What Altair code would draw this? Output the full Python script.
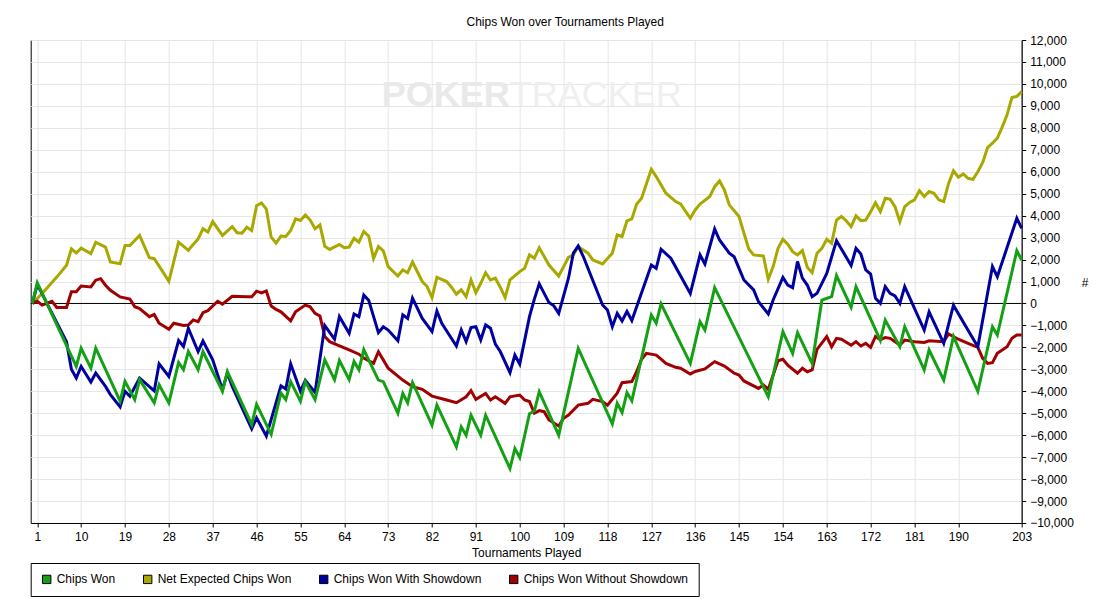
import altair as alt
import pandas as pd

TITLE = "Chips Won over Tournaments Played"
X_TITLE = "Tournaments Played"
Y_TITLE = "#"
SERIES = ["Chips Won", "Net Expected Chips Won", "Chips Won With Showdown", "Chips Won Without Showdown"]
COLORS = ["#14a014", "#a8a800", "#0000a0", "#a00000"]
DRAW_ORDER = ["Net Expected Chips Won", "Chips Won Without Showdown", "Chips Won With Showdown", "Chips Won"]
X_TICKS = [1, 10, 19, 28, 37, 46, 55, 64, 73, 82, 91, 100, 109, 118, 127, 136, 145, 154, 163, 172, 181, 190, 203]
Y_TICKS = list(range(-10000, 12001, 1000))

# (tournament, cumulative chips) vertices
CHIPS_WON = [
    (0, 0), (1, 940), (9, -2870), (10, -2040), (12, -2950), (13, -2040), (18, -4450), (19, -3550),
    (21, -4380), (22, -3470), (25, -4530), (26, -3700), (28, -4530), (30, -2690), (31, -3020),
    (32, -2190), (34, -3020), (35, -2190), (39, -4000), (40, -3100), (45, -5510), (46, -4600),
    (49, -5960), (51, -4080), (52, -4380), (53, -3560), (55, -4450), (56, -3560), (58, -4380),
    (60, -2570), (62, -3470), (63, -2600), (65, -3470), (66, -2640), (67, -3020), (68, -2110),
    (71, -3490), (72, -3560), (75, -5000), (76, -4100), (77, -4520), (78, -3600), (82, -5540),
    (83, -4630), (87, -6530), (88, -5620), (89, -6000), (90, -5090), (92, -6000), (93, -5090),
    (98, -7520), (99, -6610), (100, -7020), (102, -5020), (103, -4900), (104, -4020), (108, -6000),
    (112, -2050), (119, -5490), (120, -4550), (121, -4970), (122, -4060), (123, -4430), (127, -530),
    (128, -900), (129, -20), (135, -2730), (137, -830), (138, -1210), (140, 720), (151, -4250),
    (154, -1290), (156, -2270), (157, -1330), (160, -2730), (162, 150), (164, 310), (165, 1270),
    (168, -170), (169, 770), (174, -1680), (175, -760), (178, -1970), (179, -1060), (183, -3030),
    (184, -2120), (187, -3490), (189, -1510), (194, -4000), (197, -1060), (198, -1440), (202, 2400),
    (203, 1980),
]

NET_EXPECTED = [
    (0, 0), (2, 450), (5, 1200), (7, 1740), (8, 2490), (9, 2300), (10, 2520), (12, 2270), (13, 2790),
    (15, 2570), (16, 1890), (18, 1810), (19, 2640), (20, 2640), (22, 3100), (24, 2080), (25, 2040),
    (27, 1360), (28, 1010), (30, 2790), (32, 2420), (33, 2690), (34, 2940), (35, 3400), (36, 3250),
    (37, 3730), (39, 3100), (41, 3500), (42, 3220), (43, 3200), (44, 3470), (45, 3320), (46, 4450),
    (47, 4580), (48, 4300), (49, 3020), (50, 2750), (51, 3070), (52, 3050), (53, 3320), (54, 3850),
    (55, 3780), (56, 4030), (57, 3800), (58, 3400), (59, 3580), (60, 2600), (61, 2460), (63, 2690),
    (64, 2540), (65, 2570), (66, 2970), (67, 2790), (68, 3280), (69, 3070), (70, 2050), (71, 2590),
    (72, 2400), (73, 1680), (75, 1250), (76, 1530), (77, 1400), (78, 1890), (80, 1000), (81, 770),
    (82, 270), (83, 1190), (85, 1000), (86, 740), (87, 420), (88, 620), (89, 310), (90, 1070),
    (91, 490), (92, 920), (93, 1400), (94, 1070), (95, 1150), (96, 740), (97, 270), (98, 1070),
    (100, 1450), (101, 1600), (102, 2210), (103, 2060), (104, 2540), (106, 1750), (108, 1250),
    (110, 2100), (111, 2210), (112, 2590), (114, 2290), (115, 1980), (117, 1800), (119, 2290),
    (120, 3120), (121, 3050), (122, 3760), (123, 3850), (124, 4530), (125, 4790), (127, 6110),
    (128, 5780), (130, 5020), (132, 4640), (133, 4530), (135, 3880), (136, 4260), (137, 4530),
    (139, 4870), (140, 5320), (141, 5580), (142, 5170), (143, 4490), (145, 3960), (146, 3200),
    (147, 2480), (148, 2210), (150, 2160), (151, 1100), (152, 1680), (153, 2510), (154, 2920),
    (155, 2700), (156, 2360), (157, 2210), (158, 2410), (159, 1650), (160, 1400), (161, 2290),
    (162, 2510), (163, 2920), (164, 2740), (165, 3800), (166, 3960), (167, 3770), (168, 3500),
    (169, 3990), (170, 3770), (171, 3800), (172, 4180), (173, 4590), (174, 4180), (175, 4790),
    (176, 4750), (177, 4410), (178, 3730), (179, 4410), (180, 4600), (181, 4720), (182, 5140),
    (183, 4870), (184, 5100), (185, 5020), (186, 4720), (187, 4640), (188, 5470), (189, 6040),
    (190, 5750), (191, 5900), (192, 5700), (193, 5650), (194, 6000), (195, 6420), (196, 7100),
    (197, 7300), (198, 7530), (199, 8030), (200, 8590), (201, 9380), (202, 9430), (203, 9650),
]

WITH_SHOWDOWN = [
    (0, 0), (1, 870), (7, -1740), (8, -3000), (9, -3400), (10, -2870), (12, -3580), (13, -3170),
    (15, -3780), (16, -4150), (18, -4710), (19, -4000), (20, -4230), (22, -3400), (25, -3980),
    (26, -2750), (28, -3320), (30, -1690), (31, -1960), (32, -1130), (34, -2190), (35, -1710),
    (37, -2570), (39, -3930), (40, -3170), (41, -3780), (45, -5710), (46, -5210), (48, -6040),
    (51, -3750), (52, -3900), (53, -2750), (55, -4000), (56, -3500), (58, -4050), (60, -1010),
    (62, -1630), (63, -600), (65, -1360), (66, -480), (67, -600), (68, 380), (69, 150), (71, -1330),
    (72, -1060), (73, -1210), (75, -1700), (76, -520), (77, -680), (78, 240), (80, -680), (82, -1280),
    (83, -340), (84, -900), (87, -1940), (88, -1210), (89, -1740), (90, -1100), (91, -1060),
    (92, -1660), (93, -980), (94, -1130), (95, -1850), (96, -2190), (98, -3150), (99, -2350),
    (100, -2760), (102, -600), (103, 200), (104, 890), (106, 40), (107, -110), (108, -450),
    (110, 1150), (111, 2290), (112, 2620), (113, 2160), (117, -70), (118, -300), (119, -1060),
    (120, -450), (121, -800), (122, -370), (123, -780), (127, 1750), (128, 1600), (129, 2470),
    (131, 2060), (135, 460), (137, 2210), (138, 1800), (140, 3390), (141, 2890), (143, 2290),
    (144, 2130), (145, 1600), (146, 1070), (148, 620), (149, 80), (151, -480), (152, 160),
    (154, 1190), (155, 840), (156, 720), (157, 1910), (158, 1150), (159, 840), (160, 310),
    (161, 460), (163, 1370), (165, 2860), (168, 1730), (169, 2510), (170, 2250), (171, 1530),
    (172, 1340), (173, 240), (174, 10), (175, 770), (176, 460), (177, 340), (178, 0), (179, 770),
    (183, -1210), (184, -380), (187, -1820), (189, -80), (191, -840), (194, -1970), (197, 1680),
    (198, 1220), (202, 3880), (203, 3420),
]

WITHOUT_SHOWDOWN = [
    (0, 0), (1, 100), (2, -75), (4, 100), (5, -180), (7, -180), (8, 530), (9, 530), (10, 790),
    (12, 750), (13, 1060), (14, 1130), (15, 830), (16, 600), (18, 300), (20, 200), (21, -150),
    (22, -230), (24, -600), (25, -500), (26, -900), (28, -1180), (29, -900), (31, -1000), (32, -980),
    (33, -750), (34, -830), (35, -420), (36, -330), (38, 100), (39, -30), (41, 330), (44, 300),
    (45, 300), (46, 560), (47, 480), (48, 570), (49, -120), (50, -270), (51, -380), (53, -790),
    (54, -380), (56, -75), (57, -150), (58, -450), (59, -570), (60, -1510), (61, -1740), (63, -1930),
    (65, -2110), (67, -2310), (68, -2490), (70, -2730), (71, -2200), (72, -2570), (73, -2950),
    (76, -3490), (78, -3790), (80, -3910), (82, -4220), (85, -4400), (87, -4520), (89, -4250),
    (90, -3970), (91, -4370), (93, -4100), (94, -4400), (95, -4250), (97, -4550), (98, -4250),
    (100, -4170), (101, -4400), (102, -4470), (103, -5000), (104, -4880), (105, -4930), (106, -5310),
    (108, -5580), (109, -5230), (110, -5080), (112, -4630), (114, -4550), (115, -4370), (117, -4470),
    (118, -4630), (120, -4090), (121, -3610), (123, -3560), (124, -3100), (125, -2540), (126, -2270),
    (128, -2350), (129, -2540), (130, -2730), (132, -2910), (133, -2950), (135, -3210), (136, -3100),
    (138, -2980), (140, -2650), (142, -2850), (144, -3180), (145, -3260), (146, -3530), (149, -3870),
    (150, -3710), (151, -3910), (153, -2610), (154, -2540), (155, -2810), (157, -3180), (158, -2950),
    (159, -3110), (160, -3030), (161, -2090), (163, -1510), (164, -1970), (165, -1590), (166, -1630),
    (168, -1900), (169, -1740), (170, -1940), (171, -1820), (172, -2000), (173, -1500), (174, -1650),
    (175, -1550), (176, -1590), (178, -1890), (179, -1670), (181, -1740), (183, -1780), (184, -1700),
    (187, -1740), (188, -1390), (190, -1630), (192, -1820), (194, -2000), (195, -2500), (196, -2730),
    (197, -2700), (198, -2270), (200, -1970), (201, -1590), (202, -1440), (203, -1440),
]

FONT = "Liberation Sans"
GRID = "#e6e6ea"

rows = []
for name, pts in zip(SERIES, [CHIPS_WON, NET_EXPECTED, WITH_SHOWDOWN, WITHOUT_SHOWDOWN]):
    for t, v in pts:
        rows.append({"series": name, "t": t, "value": v})
df = pd.DataFrame(rows)
color_of = dict(zip(SERIES, COLORS))

x_enc = alt.X(
    "t:Q",
    scale=alt.Scale(domain=[-0.35, 203], nice=False, zero=False),
    axis=alt.Axis(
        values=X_TICKS, title=X_TITLE, format="d", grid=True, gridColor=GRID,
        tickSize=4, tickColor="black", domainColor="black",
        labelFontSize=12, labelColor="black", labelPadding=5, labelFlush=False, labelOverlap=False,
        titleFontSize=12, titleFontWeight="normal", titleColor="black", titlePadding=5,
    ),
)
y_enc = alt.Y(
    "value:Q",
    scale=alt.Scale(domain=[-10000, 12000], nice=False),
    axis=alt.Axis(
        orient="right", values=Y_TICKS, format=",.0f", grid=True, gridColor=GRID,
        tickSize=4, tickColor="black", domainColor="black",
        labelFontSize=12, labelColor="black", labelPadding=4, labelFlush=False, labelOverlap=False,
        title=Y_TITLE, titleAngle=0, titleX=63, titleY=242, titleAlign="center",
        titleBaseline="middle", titleFontSize=12, titleFontWeight="normal", titleColor="black",
    ),
)

base = alt.Chart(df)

one = pd.DataFrame({"k": [0]})
wm_poker = alt.Chart(one).mark_text(
    text="POKER", font=FONT, fontSize=36, fontWeight="bold", color="#e9e9e9",
    align="right", baseline="alphabetic",
).encode(x=alt.value(479), y=alt.value(66))
wm_tracker = alt.Chart(one).mark_text(
    text="TRACKER", font=FONT, fontSize=36, fontWeight="normal", color="#efefef",
    align="left", baseline="alphabetic",
).encode(x=alt.value(479), y=alt.value(66))

legend_layer = base.mark_square(opacity=0).encode(
    x=x_enc,
    y=y_enc,
    fill=alt.Fill(
        "series:N",
        scale=alt.Scale(domain=SERIES, range=COLORS),
        legend=alt.Legend(
            title=None, orient="none", legendX=0, legendY=523, direction="horizontal", columns=4,
            symbolType="square", symbolSize=70, symbolStrokeColor="black", symbolStrokeWidth=1,
            symbolOpacity=1, labelFont=FONT, labelFontSize=12, labelColor="black", labelLimit=400,
            labelOffset=4, columnPadding=25, padding=10, strokeColor="black", fillColor="white",
        ),
    ),
)

zero_rule = alt.Chart(pd.DataFrame({"value": [0]})).mark_rule(color="black", strokeWidth=1).encode(y=y_enc)

lines = []
for name in DRAW_ORDER:
    lines.append(
        base.transform_filter(alt.datum.series == name)
        .mark_line(color=color_of[name], strokeWidth=3)
        .encode(x=x_enc, y=y_enc, order="t:Q")
    )

chart = (
    alt.layer(wm_poker, wm_tracker, legend_layer, zero_rule, *lines)
    .properties(
        width=991,
        height=483,
        title=alt.TitleParams(
            TITLE, anchor="middle", frame="group", dx=39, offset=5, fontSize=12,
            fontWeight="normal", color="black", font=FONT,
        ),
        autosize=alt.AutoSizeParams(type="none"),
        padding={"left": 22.7, "top": 32, "right": 85, "bottom": 83},
    )
    .configure(font=FONT)
    .configure_view(stroke="black", strokeWidth=1)
)

chart.save("out.html", embed_options={"renderer": "svg", "actions": False})
